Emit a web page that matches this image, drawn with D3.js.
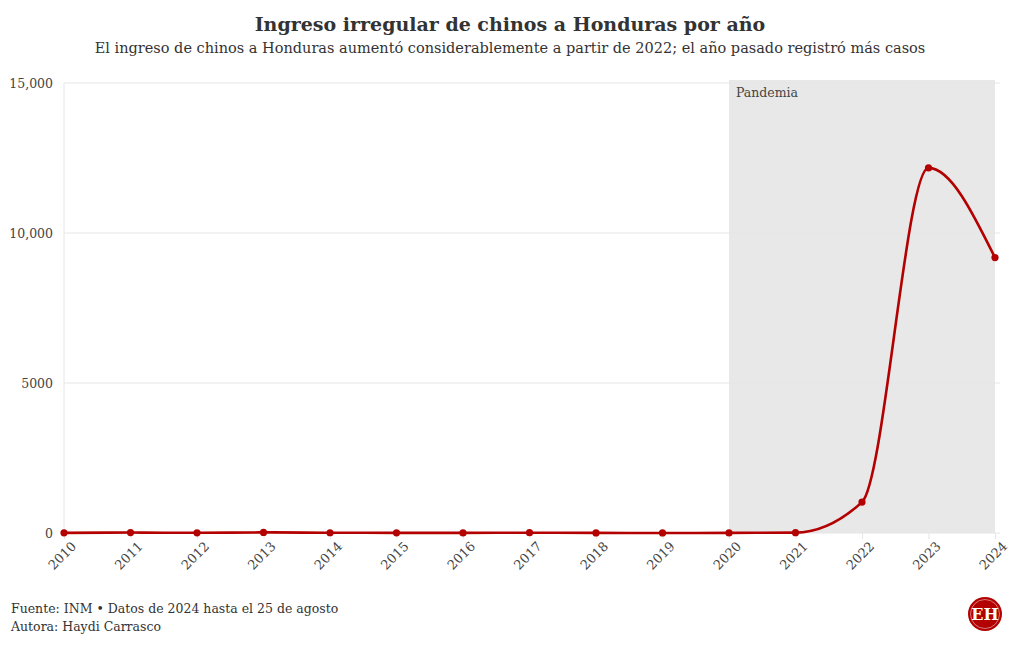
<!DOCTYPE html>
<html><head><meta charset="utf-8">
<script src="https://cdn.jsdelivr.net/npm/d3@7"></script>
<style>
body{margin:0;background:#fff;}
text{font-family:"DejaVu Serif",serif;}
</style></head>
<body><svg id="c" width="1020" height="650"></svg>
<script>
const years = [2010,2011,2012,2013,2014,2015,2016,2017,2018,2019,2020,2021,2022,2023,2024];
const values = [5,15,6,20,8,5,4,10,3,2,4,12,1030,12170,9180];
const yTicks = [0,5000,10000,15000];
const yTickLabels = ["0","5000","10,000","15,000"];
const shadeRange = [2020,2024];
const shadeLabel = "Pandemia";
const title = "Ingreso irregular de chinos a Honduras por año";
const subtitle = "El ingreso de chinos a Honduras aumentó considerablemente a partir de 2022; el año pasado registró más casos";
const notes = ["Fuente: INM • Datos de 2024 hasta el 25 de agosto","Autora: Haydi Carrasco"];

const svg = d3.select("#c");
const m = {l:64, r:25, t:83, b:117};
const W = 1020, H = 650;
const x = d3.scaleLinear().domain([2010,2024]).range([m.l, W-m.r]);
const y = d3.scaleLinear().domain([0,15000]).range([H-m.b, m.t]);

// shade
svg.append("rect").attr("x", x(shadeRange[0])).attr("y", y(15000)-3)
  .attr("width", x(shadeRange[1])-x(shadeRange[0])).attr("height", y(0)-y(15000)+3)
  .attr("fill","#e8e8e8");

// grid
svg.selectAll("line.grid").data(yTicks).join("line")
  .attr("x1", m.l).attr("x2", W-20).attr("y1", d=>y(d)).attr("y2", d=>y(d))
  .attr("stroke","#e6e6e6").attr("stroke-width",1);
svg.append("line").attr("x1",m.l).attr("x2",m.l).attr("y1",y(15000)).attr("y2",y(0))
  .attr("stroke","#e6e6e6");

// y labels
const yAxis = d3.axisLeft(y).tickValues(yTicks).tickFormat((d,i)=>yTickLabels[i]).tickSize(0).tickPadding(11);
const ya = svg.append("g").attr("transform",`translate(${m.l},0)`).call(yAxis);
ya.select(".domain").remove();
ya.selectAll("text").attr("font-family","DejaVu Serif").attr("font-size",12.5).attr("fill","#444");

// x axis
const xAxis = d3.axisBottom(x).tickValues(years).tickFormat(d3.format("d")).tickSize(6).tickPadding(4);
const xa = svg.append("g").attr("transform",`translate(0,${y(0)})`).call(xAxis);
xa.select(".domain").remove();
xa.selectAll("line").attr("stroke","#e6e6e6");
xa.selectAll("text").attr("font-family","DejaVu Serif").attr("font-size",13).attr("fill","#444")
  .attr("text-anchor","end").attr("dy","0.3em").attr("dx","0.3em")
  .attr("transform","translate(0,7) rotate(-45)");

svg.append("text").attr("x", x(shadeRange[0])+7).attr("y", y(15000)+14)
  .attr("font-size",12.5).attr("fill","#444").text(shadeLabel);

// line
const data = years.map((d,i)=>({year:d, v:values[i]}));
svg.append("path").datum(data)
  .attr("d", d3.line().x(d=>x(d.year)).y(d=>y(d.v)).curve(d3.curveMonotoneX))
  .attr("fill","none").attr("stroke","#b30000").attr("stroke-width",2.6);
svg.selectAll("circle.pt").data(data).join("circle")
  .attr("cx",d=>x(d.year)).attr("cy",d=>y(d.v)).attr("r",3.6).attr("fill","#b30000");

// titles
svg.append("text").attr("x",510).attr("y",31).attr("text-anchor","middle")
  .attr("font-size",19).attr("font-weight","bold").attr("fill","#333").text(title);
svg.append("text").attr("x",510).attr("y",53).attr("text-anchor","middle")
  .attr("font-size",14.5).attr("fill","#333").text(subtitle);

// notes
svg.selectAll("text.note").data(notes).join("text")
  .attr("x",11).attr("y",(d,i)=>613+i*18).attr("font-size",12.5).attr("fill","#333").text(d=>d);

// logo
const lg = svg.append("g").attr("transform","translate(985,614)");
lg.append("circle").attr("r",17).attr("fill","#b30000");
lg.append("circle").attr("r",14.5).attr("fill","none").attr("stroke","#fff").attr("stroke-width",0.8).attr("opacity",0.6);
lg.append("text").attr("text-anchor","middle").attr("y",6).attr("font-size",16).attr("font-weight","bold")
  .attr("fill","#fff").text("EH");
</script></body></html>
